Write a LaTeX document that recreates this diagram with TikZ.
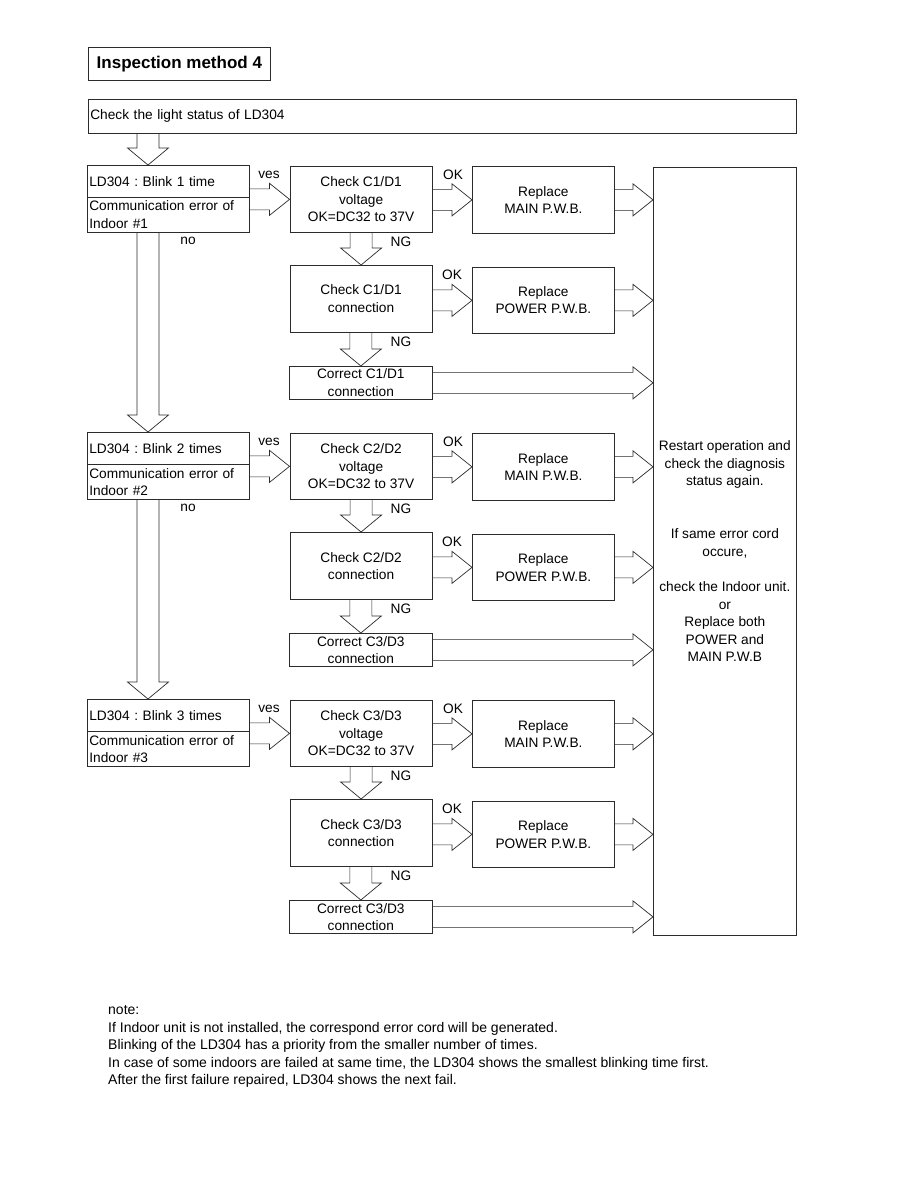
\documentclass[tikz,border=0pt]{standalone}
\usepackage{fontspec}
\setmainfont{Liberation Sans}
\usepackage{tikz}
\usetikzlibrary{calc}
\frenchspacing
\tikzset{box/.style={draw=inkline,line width=.7pt,inner sep=1pt,align=center,font=\fontsize{13.7}{17.5}\selectfont},
lbox/.style={box,anchor=north west,align=left,text width=158pt,inner sep=2pt},
answer/.style={inner sep=0pt,font=\fontsize{13.7}{16}\selectfont},
rarr/.style={draw=inkline,line width=.7pt,to path={let \p1=(\tikztostart),\p2=(\tikztotarget) in (\x1,\y2+10.5pt)--(\x2-20pt,\y2+10.5pt)--(\x2-20pt,\y2+16pt)--(\p2)--(\x2-20pt,\y2-16pt)--(\x2-20pt,\y2-10.5pt)--(\x1,\y2-10.5pt)}},
darr/.style={draw=inkline,line width=.7pt,to path={let \p1=(\tikztostart),\p2=(\tikztotarget) in (\x2-11pt,\y1)--(\x2-11pt,\y2+17pt)--(\x2-20.5pt,\y2+17pt)--(\p2)--(\x2+20.5pt,\y2+17pt)--(\x2+11pt,\y2+17pt)--(\x2+11pt,\y1)}}}
\definecolor{inkline}{HTML}{2B2B2B}

\begin{document}
\begin{tikzpicture}[x=1pt,y=-1pt]
\fill[white] (0,0) rectangle (918,1188);
\useasboundingbox (0,0) rectangle (918,1188);
\node[box,anchor=north west,minimum width=182pt,minimum height=33pt,font=\bfseries\fontsize{17}{20}\selectfont] (title) at (88,47) {Inspection method 4};
\node[lbox,text width=704pt,minimum height=34pt] (top) at (88,99) {Check the light status of LD304};
\node[box,anchor=north west,minimum width=143pt,minimum height=768pt,font=\fontsize{13.7}{17.6}\selectfont] (big) at (653,167) {Restart operation and\\check the diagnosis\\status again.\\[35.2pt]If same error cord\\occure,\\[17.6pt]check the Indoor unit.\\or\\Replace both\\POWER and\\MAIN P.W.B};
\coordinate (spine) at (148,0);
\foreach \g/\dy/\blink/\c in {1/0/{1 time}/1,2/267/{2 times}/3,3/534/{3 times}/3} {
\begin{scope}[yshift=-\dy pt]
\node[lbox,minimum height=32pt] (ld\g) at (87,165) {LD304 : Blink \blink};
\node[lbox,minimum height=35pt] (err\g) at (87,197) {Communication error of\\Indoor \#\g};
\node[box,anchor=north west,minimum width=142.5pt,minimum height=66pt] (chkv\g) at (289.5,166) {Check C\g/D\g\\voltage\\OK=DC32 to 37V};
\node[box,anchor=north west,minimum width=142pt,minimum height=67pt] (repm\g) at (472,166) {Replace\\MAIN P.W.B.};
\node[box,anchor=north west,minimum width=142.5pt,minimum height=67pt] (chkc\g) at (289.5,265) {Check C\g/D\g\\connection};
\node[box,anchor=north west,minimum width=142pt,minimum height=66pt] (repp\g) at (472,267) {Replace\\POWER P.W.B.};
\node[box,anchor=north west,minimum width=143pt,minimum height=33pt] (cor\g) at (289,366) {Correct C\c/D\c\\connection};
\draw[rarr] (ld\g.east) to (chkv\g.west);
\draw[rarr] (chkv\g.east) to (repm\g.west);
\draw[rarr] (chkc\g.east) to (repp\g.west);
\draw[rarr] (repm\g.east) to (big.west |- repm\g.east);
\draw[rarr] (repp\g.east) to (big.west |- repp\g.east);
\draw[rarr] (cor\g.east) to (big.west |- cor\g.east);
\draw[darr] (chkv\g.south) to (chkc\g.north);
\draw[darr] (chkc\g.south) to (cor\g.north);
\node[answer] (ves\g) at (269,175) {ves};
\node[answer] (okv\g) at (453,175) {OK};
\node[answer] (okc\g) at (452,275) {OK};
\node[answer] (ngv\g) at (401,242) {NG};
\node[answer] (ngc\g) at (401,342) {NG};
\ifnum\g<3 \node[answer] (no\g) at (188,241) {no};\fi
\end{scope}}
\draw[darr] (top.south -| spine) to (ld1.north -| spine);
\draw[darr] (err1.south -| spine) to (ld2.north -| spine);
\draw[darr] (err2.south -| spine) to (ld3.north -| spine);
\foreach \line [count=\k] in {note:,{If Indoor unit is not installed, the correspond error cord will be generated.},{Blinking of the LD304 has a priority from the smaller number of times.},{In case of some indoors are failed at same time, the LD304 shows the smallest blinking time first.},{After the first failure repaired, LD304 shows the next fail.}}
\node[anchor=base west,inner sep=0pt,font=\fontsize{14}{17.5}\selectfont] (note\k) at (108,{1014.5+17.5*(\k-1)}) {\line};
\end{tikzpicture}
\end{document}
